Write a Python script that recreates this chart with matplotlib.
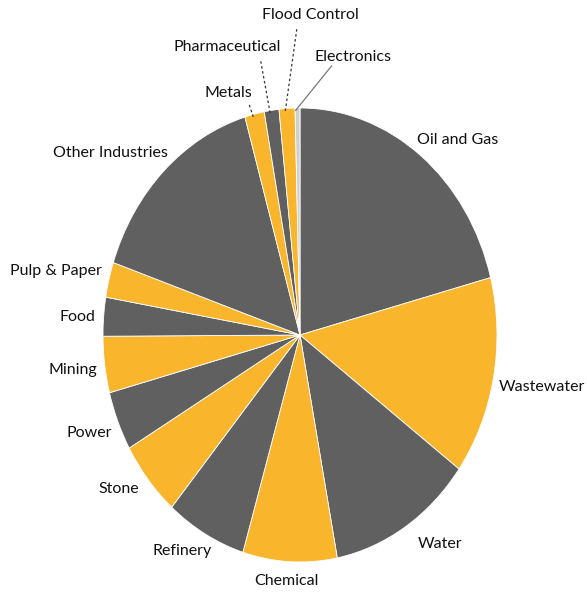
import numpy as np
import matplotlib
matplotlib.use('Agg')
from matplotlib import pyplot as plt

# shares by industry (percent), clockwise from 12 o'clock
industries = ['Oil and Gas', 'Wastewater', 'Water', 'Chemical', 'Refinery', 'Stone',
              'Power', 'Mining', 'Food', 'Pulp & Paper', 'Other Industries',
              'Metals', 'Pharmaceutical', 'Flood Control', 'Electronics']
shares = [20.9, 14.1, 11.9, 7.7, 6.6, 5.4, 4.2, 4.0, 2.75, 2.5, 15.3, 1.6, 1.2, 1.3, 0.4]

DARK = '#606060'
YELLOW = '#f9b52b'
colors = [DARK, YELLOW] * 7 + ['#cfcfcf']

# label placement (pie radius units) and leader-line ends for the small slices
label_pos = {
    'Oil and Gas': (0.80, 0.86), 'Wastewater': (1.23, -0.23), 'Water': (0.71, -0.92),
    'Chemical': (-0.07, -1.085), 'Refinery': (-0.60, -0.95), 'Stone': (-0.92, -0.68),
    'Power': (-1.07, -0.43), 'Mining': (-1.155, -0.155), 'Food': (-1.13, 0.08),
    'Pulp & Paper': (-1.24, 0.28), 'Other Industries': (-0.96, 0.80),
    'Metals': (-0.365, 1.065), 'Pharmaceutical': (-0.37, 1.27),
    'Flood Control': (0.055, 1.41), 'Electronics': (0.27, 1.225),
}
leader_end = {
    'Metals': ((-0.26, 1.02), (0, (2, 2))), 'Pharmaceutical': ((-0.20, 1.21), (0, (2, 2))),
    'Flood Control': ((-0.015, 1.355), (0, (2, 2))), 'Electronics': ((0.16, 1.185), '-'),
}

fig = plt.figure(figsize=(5.87, 5.94), dpi=100)
# the chart's pie is stretched vertically, so the axes box is not square
ax = fig.add_axes([103 / 587, 32 / 594, 394 / 587, 454 / 594])
ax.pie(shares, colors=colors, startangle=90, counterclock=False,
       wedgeprops=dict(edgecolor='white', linewidth=0.6))
ax.set_aspect('auto')
ax.set_xlim(-1, 1)
ax.set_ylim(-1, 1)
ax.axis('off')

cum = np.cumsum([0] + shares)
for i, name in enumerate(industries):
    x, y = label_pos[name]
    ax.text(x, y, name, ha='center', va='center', fontsize=11.5,
            family='Lato', color='#111111', clip_on=False)
    if name in leader_end:
        mid = np.deg2rad((cum[i] + cum[i + 1]) / 2 * 3.6)
        (ex, ey), ls = leader_end[name]
        ax.plot([0.99 * np.sin(mid), ex], [0.99 * np.cos(mid), ey], linestyle=ls,
                color='#333333' if ls != '-' else '#777777', lw=0.9, clip_on=False)

plt.savefig('out.png', dpi=100)
